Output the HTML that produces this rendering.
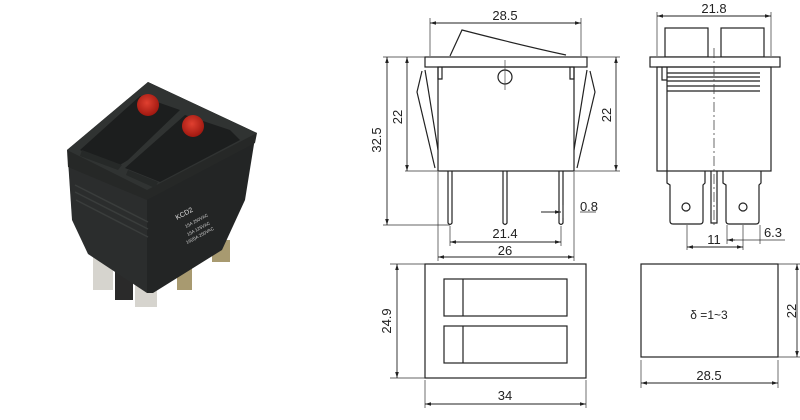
<!DOCTYPE html>
<html><head><meta charset="utf-8"><style>
html,body{margin:0;padding:0;background:#fff;width:800px;height:420px;overflow:hidden}
svg{display:block}
text{font-family:"Liberation Sans",Arial,sans-serif;fill:#222}
</style></head><body>
<svg width="800" height="420" viewBox="0 0 800 420" xmlns="http://www.w3.org/2000/svg">
<defs>
<marker id="a" viewBox="0 0 10 6" refX="10" refY="3" markerWidth="8" markerHeight="4" orient="auto-start-reverse"><path d="M0,0L10,3L0,6z" fill="#222"/></marker>
<radialGradient id="red" cx="0.45" cy="0.4" r="0.6"><stop offset="0" stop-color="#e04030"/><stop offset="1" stop-color="#a01810"/></radialGradient>
</defs>
<!-- Photo -->
<g>
<rect x="93" y="253" width="20" height="37" fill="#d6d4ce"/>
<rect x="115" y="260" width="18" height="40" fill="#2a2a2a"/>
<rect x="135" y="273" width="22" height="34" fill="#d6d4ce"/>
<rect x="177" y="262" width="15" height="28" fill="#a89a70"/>
<rect x="212" y="240" width="18" height="22" fill="#a89a70"/>
<polygon points="68,160 147,196 147,293 88,254 72,220" fill="#2b2d2d"/>
<polygon points="147,196 255,138 245,200 222,250 153,293 147,293" fill="#232525"/>
<path d="M75,185 L148,222 M75,192 L148,229 M76,200 L148,237" stroke="#3a3d3c" stroke-width="1.5"/>
<polygon points="67,150 148,82 257,133 255,143 147,200 68,167" fill="#262827"/>
<polygon points="67,150 148,82 257,133 147,190" fill="#303332"/>
<polygon points="80,150 140,96 180,110 128,160 115,168" fill="#1c1e1e"/>
<polygon points="125,168 185,115 230,130 240,140 160,182" fill="#1c1e1e"/>
<polygon points="82,150 122,165 118,170 80,156" fill="#262928"/>
<polygon points="128,170 158,182 155,188 126,175" fill="#262928"/>
<circle cx="148" cy="105" r="11" fill="url(#red)"/>
<circle cx="193" cy="126" r="11" fill="url(#red)"/>
<text x="177" y="220" font-size="7" style="fill:#ddd" transform="rotate(-28 177 220)">KCD2</text>
<text x="186" y="228" font-size="4.5" style="fill:#ccc" transform="rotate(-28 186 228)">15A 250VAC</text>
<text x="188" y="236" font-size="4.5" style="fill:#ccc" transform="rotate(-28 188 236)">15A 125VAC</text>
<text x="187" y="244" font-size="4.5" style="fill:#ccc" transform="rotate(-28 187 244)">16(8)A 250VAC</text>
</g>
<g fill="none" stroke="#222" stroke-width="1.2">
<path d="M450,56 L462,30 Q520,45 566,55"/>
<rect x="425" y="57" width="162" height="10" fill="#fff"/>
<rect x="438" y="67" width="136" height="104"/>
<path d="M438,67v12h4v-12 M574,67v12h-4v-12"/>
<circle cx="505" cy="77" r="7"/>
<path d="M422,71 L417,92 L435,168 M425,70 L428,88 L438,150"/>
<path d="M590,71 L595,92 L577,168 M587,70 L584,88 L574,150"/>
<path d="M448,171v52q2,3 4,0v-52 M503,171v52q2,3 4,0v-52 M559,171v52q2,3 4,0v-52"/>
<rect x="665" y="28" width="43" height="29"/>
<rect x="721" y="28" width="43" height="29"/>
<rect x="650" y="57" width="130" height="10" fill="#fff"/>
<rect x="657" y="67" width="114" height="104"/>
<path d="M662,67v13h5 M667,73h93 M667,77h93 M667,81h93 M667,86h93 M667,91h93 M667,67v104"/>
<path d="M667,171v12l3,2v36q0,3 3,3h27q3,0 3,-3v-36l2,-2v-12"/>
<path d="M723,171v12l3,2v36q0,3 3,3h27q3,0 3,-3v-36l2,-2v-12"/>
<path d="M711,171v52h6v-52"/>
<circle cx="686" cy="207" r="4"/><circle cx="743" cy="207" r="4"/>
<rect x="425" y="264" width="161" height="114"/>
<rect x="444" y="279" width="123" height="37"/>
<rect x="444" y="326" width="123" height="37"/>
<path d="M463,279v37 M463,326v37"/>
<rect x="641" y="264" width="137" height="93"/>
</g>
<path d="M714,48V228" stroke="#444" stroke-width="0.8" stroke-dasharray="10,3,2,3"/>
<path d="M505,60V90" stroke="#444" stroke-width="0.7"/>
<g stroke="#333" stroke-width="0.7" fill="none">
<path d="M430,18V56 M581,18V56 M657,12V56 M771,12V56"/>
<path d="M383,57H425 M405,171H438 M383,225H450 M587,57H620 M574,171H620"/>
<path d="M450,226V246 M561,226V246 M438,172V261 M574,172V261 M563,205V218"/>
<path d="M687,225V250 M743,225V250 M727,225V244 M760,225V244"/>
<path d="M390,264H425 M390,378H425 M425,380V408 M586,380V408 M641,360V388 M778,360V388 M778,264H800 M778,357H800"/>
<path d="M580,212H596 M727,240H785" />
</g>
<g stroke="#222" stroke-width="0.9" marker-start="url(#a)" marker-end="url(#a)">
<line x1="430" y1="23" x2="581" y2="23"/>
<line x1="657" y1="16" x2="771" y2="16"/>
<line x1="387" y1="57" x2="387" y2="225"/>
<line x1="407" y1="57" x2="407" y2="171"/>
<line x1="616" y1="57" x2="616" y2="171"/>
<line x1="450" y1="242" x2="561" y2="242"/>
<line x1="438" y1="257" x2="574" y2="257"/>
<line x1="687" y1="247" x2="743" y2="247"/>
<line x1="397" y1="264" x2="397" y2="378"/>
<line x1="425" y1="404" x2="586" y2="404"/>
<line x1="641" y1="383" x2="778" y2="383"/>
<line x1="797" y1="264" x2="797" y2="357"/>
</g>
<line x1="541" y1="212" x2="561" y2="212" stroke="#222" stroke-width="0.9" marker-end="url(#a)"/>
<line x1="735" y1="240" x2="727" y2="240" stroke="#222" stroke-width="0.9" marker-end="url(#a)"/>
<g font-size="13" text-anchor="middle">
<text x="505" y="20">28.5</text>
<text x="714" y="13">21.8</text>
<text x="381" y="140" transform="rotate(-90 381 140)">32.5</text>
<text x="402" y="117" transform="rotate(-90 402 117)">22</text>
<text x="611" y="115" transform="rotate(-90 611 115)">22</text>
<text x="589" y="211">0.8</text>
<text x="505" y="238">21.4</text>
<text x="505" y="255">26</text>
<text x="714" y="244">11</text>
<text x="773" y="237">6.3</text>
<text x="391" y="321" transform="rotate(-90 391 321)">24.9</text>
<text x="505" y="400">34</text>
<text x="709" y="380">28.5</text>
<text x="796" y="311" transform="rotate(-90 796 311)">22</text>
<text x="709" y="319" font-size="12">δ =1~3</text>
</g>
</svg>
</body></html>
